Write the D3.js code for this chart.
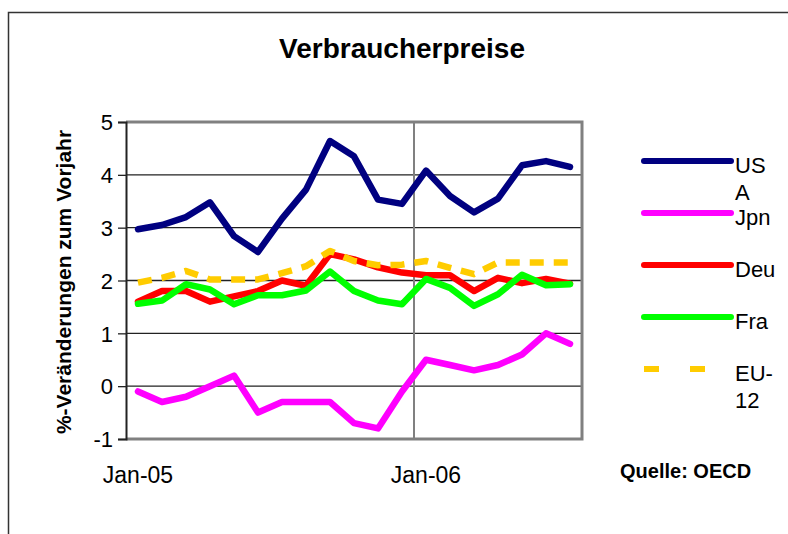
<!DOCTYPE html>
<html>
<head>
<meta charset="utf-8">
<script src="https://cdn.jsdelivr.net/npm/d3@7"></script>
<style>
  body { margin: 0; background: #fff; }
  svg text { font-family: "Liberation Sans", Arial, sans-serif; }
</style>
</head>
<body>
<div class="canvas"></div>
<script>
// data
const months = ['Jan-05','Feb-05','Mar-05','Apr-05','May-05','Jun-05','Jul-05','Aug-05','Sep-05','Oct-05',
                'Nov-05','Dec-05','Jan-06','Feb-06','Mar-06','Apr-06','May-06','Jun-06','Jul-06'];
const usa = [2.97, 3.05, 3.2, 3.48, 2.84, 2.54, 3.17, 3.72, 4.64, 4.35, 3.53, 3.45, 4.08, 3.6, 3.29, 3.55, 4.18, 4.26, 4.15];
const jpn = [-0.1, -0.3, -0.2, 0.0, 0.2, -0.5, -0.3, -0.3, -0.3, -0.7, -0.8, -0.1, 0.5, 0.4, 0.3, 0.4, 0.6, 1.0, 0.8];
const deu = [1.6, 1.8, 1.8, 1.6, 1.7, 1.8, 2.0, 1.9, 2.5, 2.4, 2.25, 2.15, 2.1, 2.1, 1.8, 2.05, 1.95, 2.03, 1.94];
const fra = [1.56, 1.62, 1.93, 1.83, 1.55, 1.72, 1.72, 1.81, 2.17, 1.8, 1.62, 1.55, 2.03, 1.86, 1.52, 1.74, 2.11, 1.91, 1.93];
const eu12 = [1.96, 2.05, 2.18, 2.02, 2.02, 2.02, 2.14, 2.27, 2.56, 2.37, 2.29, 2.3, 2.37, 2.24, 2.12, 2.34, 2.34, 2.34, 2.34];
const yTicks = [-1, 0, 1, 2, 3, 4, 5];
const xLabels = ['Jan-05', 'Jan-06'];

const series = [
  { name: ['US', 'A'], values: usa, color: '#000080' },
  { name: ['Jpn'], values: jpn, color: '#ff00ff' },
  { name: ['Deu'], values: deu, color: '#ff0000' },
  { name: ['Fra'], values: fra, color: '#00ff00' },
  { name: ['EU-', '12'], values: eu12, color: '#ffcc00', dashed: true }
];

const W = 788, H = 534;
const plot = { left: 126, right: 582, top: 122, bottom: 439 };

const svg = d3.select('.canvas').append('svg')
  .attr('width', W).attr('height', H);

// chart border (only top and left visible)
svg.append('path')
  .attr('d', `M8.5,${H} V12.5 H${W}`)
  .attr('fill', 'none').attr('stroke', '#333').attr('stroke-width', 1.5);

svg.append('text')
  .attr('x', 402).attr('y', 58)
  .attr('text-anchor', 'middle')
  .attr('font-size', 28).attr('font-weight', 'bold')
  .text('Verbraucherpreise');

const x = d3.scaleBand().domain(months).range([plot.left, plot.right]).padding(0);
const y = d3.scaleLinear().domain([-1, 5]).range([plot.bottom, plot.top]);
const cx = d => x(d) + x.bandwidth() / 2;

// horizontal gridlines
svg.append('g').selectAll('line')
  .data(yTicks.filter(t => t > -1 && t < 5))
  .join('line')
  .attr('x1', plot.left).attr('x2', plot.right)
  .attr('y1', d => y(d)).attr('y2', d => y(d))
  .attr('stroke', '#222').attr('stroke-width', 1.3);

// vertical gridline at Jan-06
svg.append('line')
  .attr('x1', x('Jan-06')).attr('x2', x('Jan-06'))
  .attr('y1', plot.top).attr('y2', plot.bottom)
  .attr('stroke', '#808080').attr('stroke-width', 2);

// plot frame top / right / bottom
svg.append('path')
  .attr('d', `M${plot.left},${plot.top} H${plot.right} V${plot.bottom} H${plot.left}`)
  .attr('fill', 'none').attr('stroke', '#808080').attr('stroke-width', 3);

// y axis
const yAxis = d3.axisLeft(y).tickValues(yTicks).tickSize(8).tickFormat(d => String(d));
const yg = svg.append('g').attr('transform', `translate(${plot.left},0)`).call(yAxis);
yg.select('.domain').attr('stroke', '#222').attr('stroke-width', 2);
yg.selectAll('.tick line').attr('stroke', '#222').attr('stroke-width', 1.3);
yg.selectAll('.tick text')
  .attr('font-size', 22).attr('fill', '#000')
  .attr('font-family', '"Liberation Sans", Arial, sans-serif')
  .attr('x', -13).attr('dy', '0.35em');

// x labels
svg.append('g').selectAll('text')
  .data(xLabels)
  .join('text')
  .attr('x', d => cx(d)).attr('y', 483)
  .attr('text-anchor', 'middle')
  .attr('font-size', 23)
  .text(d => d);

// y axis title
svg.append('text')
  .attr('transform', `translate(71,282) rotate(-90)`)
  .attr('text-anchor', 'middle')
  .attr('font-size', 21).attr('font-weight', 'bold')
  .text('%-Veränderungen zum Vorjahr');

// lines
const line = d3.line()
  .x((d, i) => cx(months[i]))
  .y(d => y(d));

svg.append('g').selectAll('path')
  .data(series)
  .join('path')
  .attr('d', d => line(d.values))
  .attr('fill', 'none')
  .attr('stroke', d => d.color)
  .attr('stroke-width', 6.5)
  .attr('stroke-linejoin', 'round')
  .attr('stroke-linecap', d => d.dashed ? 'butt' : 'round')
  .attr('stroke-dasharray', d => d.dashed ? '14,10' : null);

// legend
const legend = svg.append('g');
series.forEach((s, i) => {
  const ly = 161 + i * 52;
  legend.append('line')
    .attr('x1', 644).attr('x2', s.dashed ? 705 : 731)
    .attr('y1', ly).attr('y2', ly)
    .attr('stroke', s.color).attr('stroke-width', 6)
    .attr('stroke-linecap', s.dashed ? 'butt' : 'round')
    .attr('stroke-dasharray', s.dashed ? '15,31' : null);
  const t = legend.append('text')
    .attr('x', 735).attr('y', ly + 12)
    .attr('font-size', 22);
  s.name.forEach((n, j) => {
    t.append('tspan').attr('x', 735).attr('dy', j === 0 ? 0 : 27).text(n);
  });
});

svg.append('text')
  .attr('x', 620).attr('y', 478)
  .attr('font-size', 20).attr('font-weight', 'bold')
  .text('Quelle: OECD');
</script>
</body>
</html>
